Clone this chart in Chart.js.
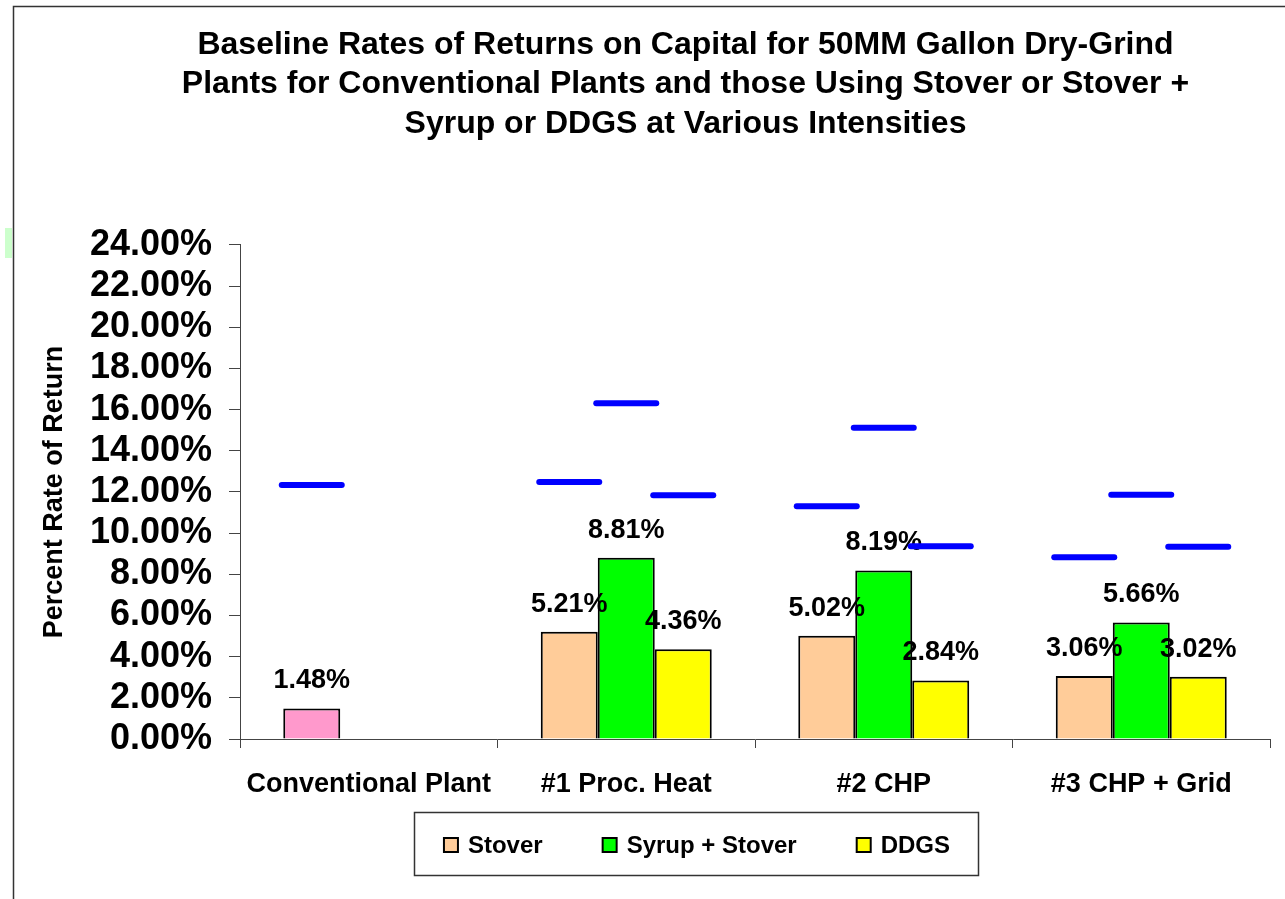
<!DOCTYPE html>
<html>
<head>
<meta charset="utf-8">
<script src="https://cdn.jsdelivr.net/npm/chart.js@4.4.0/dist/chart.umd.min.js"></script>
<style>
html, body { margin: 0; padding: 0; background: #ffffff; }
#wrap { width: 1285px; height: 899px; position: relative; }
</style>
</head>
<body>
<div id="wrap"><canvas id="c" width="1285" height="899"></canvas></div>
<script>
// ---------- data ----------
const titleLines = [
  'Baseline Rates of Returns on Capital for 50MM Gallon Dry-Grind',
  'Plants for Conventional Plants and those Using Stover or Stover +',
  'Syrup or DDGS at Various Intensities'
];
const yAxisTitle = 'Percent Rate of Return';
const categories = ['Conventional Plant', '#1 Proc. Heat', '#2 CHP', '#3 CHP + Grid'];
const seriesNames = ['Stover', 'Syrup + Stover', 'DDGS'];
const stoverValues = [1.48, 5.21, 5.02, 3.06];
const syrupStoverValues = [null, 8.81, 8.19, 5.66];
const ddgsValues = [null, 4.36, 2.84, 3.02];
// blue marker levels drawn above each bar
const stoverMarks = [12.34, 12.49, 11.31, 8.83];
const syrupStoverMarks = [null, 16.31, 15.12, 11.86];
const ddgsMarks = [null, 11.84, 9.36, 9.34];
const yMin = 0, yMax = 24, yStep = 2;

// ---------- styles ----------
const FONT = "'Liberation Sans', Arial, Helvetica, sans-serif";
const conventionalColor = '#FF99CC';
const seriesColors = ['#FFCC99', '#00FF00', '#FFFF00'];
const markColor = '#0000FF';
const axisColor = '#444444';

Chart.defaults.font.family = FONT;
Chart.defaults.color = '#000000';

const marksBySeries = [stoverMarks, syrupStoverMarks, ddgsMarks];

const framePlugin = {
  id: 'frame',
  afterLayout(chart) {
    // centre the title block over the same span as the reference
    const t = chart.titleBlock;
    if (t) {
      t.left = 101;
      t.right = chart.chartArea.right;
      t.width = t.right - t.left;
    }
  },
  beforeDraw(chart) {
    const ctx = chart.ctx;
    ctx.save();
    ctx.fillStyle = '#ffffff';
    ctx.fillRect(0, 0, chart.width, chart.height);
    ctx.fillStyle = '#CCFFCC';
    ctx.fillRect(5, 228, 7, 30);
    ctx.strokeStyle = '#333333';
    ctx.lineWidth = 1.5;
    ctx.beginPath();
    ctx.moveTo(13.5, chart.height);
    ctx.lineTo(13.5, 6.5);
    ctx.lineTo(chart.width, 6.5);
    ctx.stroke();
    ctx.restore();
  }
};

const labelsAndMarksPlugin = {
  id: 'labelsAndMarks',
  afterDatasetsDraw(chart) {
    const ctx = chart.ctx;
    const yScale = chart.scales.y;
    ctx.save();
    // value labels
    ctx.font = 'bold 27px ' + FONT;
    ctx.fillStyle = '#000000';
    ctx.textAlign = 'center';
    ctx.textBaseline = 'middle';
    chart.data.datasets.forEach((ds, i) => {
      const meta = chart.getDatasetMeta(i);
      meta.data.forEach((el, j) => {
        const v = ds.data[j];
        if (v === null || v === undefined) return;
        ctx.fillText(v.toFixed(2) + '%', el.x, el.y - 27.5);
      });
    });
    // blue marker dashes
    ctx.strokeStyle = markColor;
    ctx.lineWidth = 6;
    ctx.lineCap = 'round';
    marksBySeries.forEach((marks, i) => {
      const meta = chart.getDatasetMeta(i);
      marks.forEach((m, j) => {
        if (m === null || m === undefined) return;
        const el = meta.data[j];
        const y = yScale.getPixelForValue(m);
        ctx.beginPath();
        ctx.moveTo(el.x - 30, y);
        ctx.lineTo(el.x + 30, y);
        ctx.stroke();
      });
    });
    ctx.restore();
  }
};

const legendBoxPlugin = {
  id: 'legendBox',
  afterDraw(chart) {
    const ctx = chart.ctx;
    ctx.save();
    ctx.font = 'bold 24px ' + FONT;
    const box = 14, textGap = 10, itemGap = 60;
    const widths = seriesNames.map(n => ctx.measureText(n).width);
    let total = 0;
    widths.forEach((w, i) => { total += box + textGap + w + (i < widths.length - 1 ? itemGap : 0); });
    const cx = 697, cy = 845;
    let x = cx - total / 2;
    ctx.strokeStyle = '#333333';
    ctx.lineWidth = 1.5;
    ctx.strokeRect(414.5, 812.5, 564, 63);
    ctx.textAlign = 'left';
    ctx.textBaseline = 'middle';
    seriesNames.forEach((n, i) => {
      ctx.fillStyle = seriesColors[i];
      ctx.fillRect(x, cy - box / 2, box, box);
      ctx.strokeStyle = '#000000';
      ctx.lineWidth = 2;
      ctx.strokeRect(x, cy - box / 2, box, box);
      ctx.fillStyle = '#000000';
      ctx.fillText(n, x + box + textGap, cy + 1);
      x += box + textGap + widths[i] + itemGap;
    });
    ctx.restore();
  }
};

new Chart(document.getElementById('c'), {
  type: 'bar',
  data: {
    labels: categories,
    datasets: [
      {
        label: seriesNames[0],
        data: stoverValues,
        backgroundColor: stoverValues.map((v, i) => i === 0 ? conventionalColor : seriesColors[0]),
        borderColor: '#000000',
        borderWidth: 2
      },
      {
        label: seriesNames[1],
        data: syrupStoverValues,
        backgroundColor: seriesColors[1],
        borderColor: '#000000',
        borderWidth: 2
      },
      {
        label: seriesNames[2],
        data: ddgsValues,
        backgroundColor: seriesColors[2],
        borderColor: '#000000',
        borderWidth: 2
      }
    ]
  },
  options: {
    responsive: false,
    animation: false,
    devicePixelRatio: 1,
    categoryPercentage: 0.664,
    barPercentage: 1.0,
    layout: { padding: { top: 0, left: 13, right: 15, bottom: 107 } },
    plugins: {
      legend: { display: false },
      tooltip: { enabled: false },
      title: {
        display: true,
        text: titleLines,
        color: '#000000',
        font: { size: 32, weight: 'bold', lineHeight: 1.234 },
        padding: { top: 25, bottom: 101.5 }
      }
    },
    scales: {
      x: {
        offset: true,
        grid: { display: true, drawOnChartArea: false, offset: true, tickLength: 9, color: axisColor, lineWidth: 1 },
        border: { display: true, color: axisColor, width: 1 },
        ticks: { font: { size: 27, weight: 'bold' }, color: '#000000', padding: 20, maxRotation: 0, autoSkip: false },
        afterFit(scale) { scale.height = 53; }
      },
      y: {
        min: yMin,
        max: yMax,
        grid: { display: true, drawOnChartArea: false, tickLength: 11, color: axisColor, lineWidth: 1 },
        border: { display: true, color: axisColor, width: 1 },
        ticks: {
          stepSize: yStep,
          autoSkip: false,
          font: { size: 36, weight: 'bold' },
          color: '#000000',
          padding: 17,
          callback: v => Number(v).toFixed(2) + '%'
        },
        title: {
          display: true,
          text: yAxisTitle,
          color: '#000000',
          font: { size: 27, weight: 'bold', lineHeight: 1.2 },
          padding: { top: 25.8, bottom: 0 }
        },
        afterFit(scale) { scale.width = 227; }
      }
    }
  },
  plugins: [framePlugin, labelsAndMarksPlugin, legendBoxPlugin]
});
</script>
</body>
</html>
